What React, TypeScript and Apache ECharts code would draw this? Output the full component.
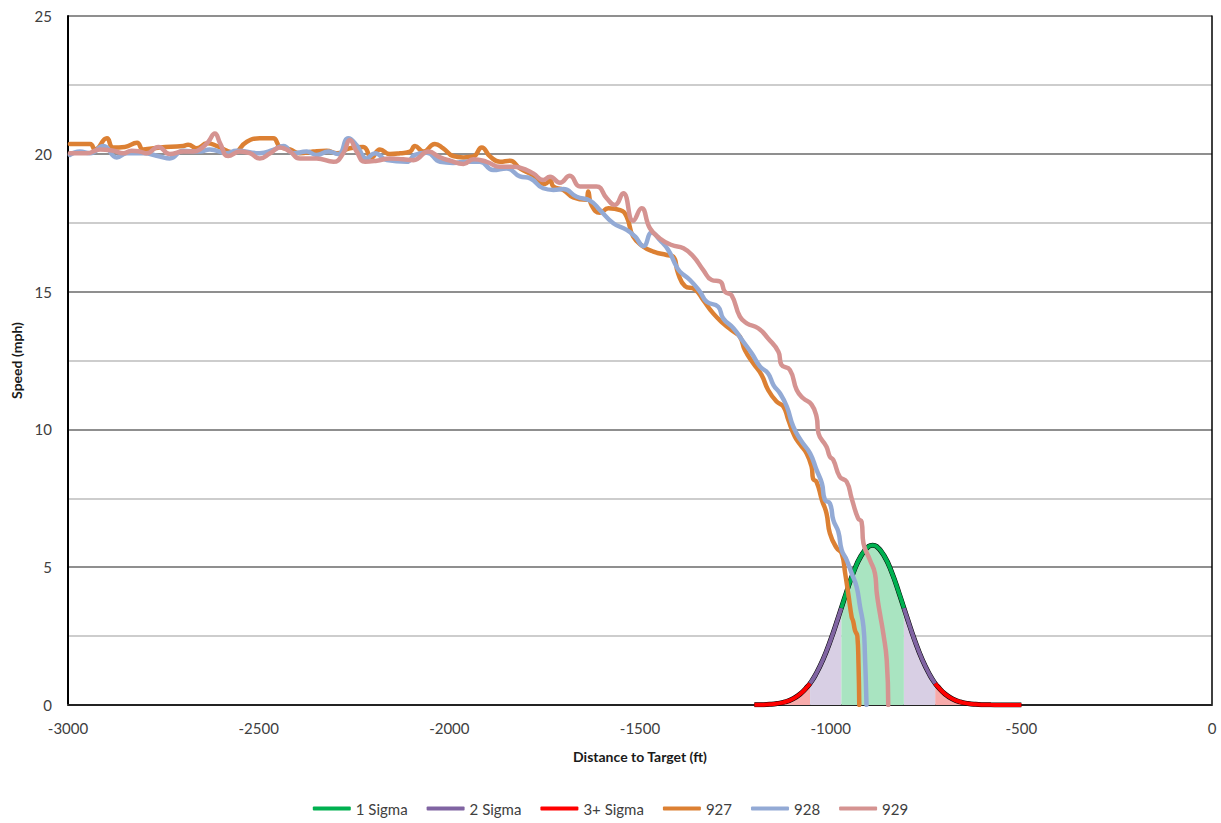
import React, { useEffect, useRef } from "react";
import * as echarts from "echarts";

// ---- Axis settings ----
const X_MIN = -3000;
const X_MAX = 0;
const X_STEP = 500;
const Y_MIN = 0;
const Y_MAX = 25;
const Y_STEP = 5;

const LEGEND_NAMES = ["1 Sigma", "2 Sigma", "3+ Sigma", "927", "928", "929"];

// ---- Bell curve (distance ft, height) ----
const sigma3Left: number[][] = [
  [-1200, 0.005], [-1180, 0.011], [-1160, 0.026], [-1140, 0.056], [-1120, 0.11],
  [-1100, 0.22], [-1080, 0.4], [-1060, 0.68], [-1054, 0.785],
];
const sigma2Left: number[][] = [
  [-1054, 0.785], [-1040, 1.09], [-1020, 1.65], [-1000, 2.36], [-980, 3.18], [-972, 3.52],
];
const sigma1: number[][] = [
  [-972, 3.52], [-960, 4.03], [-940, 4.82], [-920, 5.42], [-900, 5.76], [-890, 5.8],
  [-880, 5.76], [-860, 5.42], [-840, 4.82], [-820, 4.03], [-808, 3.52],
];
const sigma2Right: number[][] = [
  [-808, 3.52], [-800, 3.18], [-780, 2.36], [-760, 1.65], [-740, 1.09], [-726, 0.785],
];
const sigma3Right: number[][] = [
  [-726, 0.785], [-720, 0.68], [-700, 0.4], [-680, 0.22], [-660, 0.11], [-640, 0.056],
  [-620, 0.026], [-600, 0.011], [-580, 0.005], [-560, 0.002], [-540, 0.001], [-520, 0], [-500, 0],
];

// ---- Runs (distance ft, speed mph) ----
const run927: number[][] = [
  [-2995, 20.36], [-2942, 20.36], [-2929, 20.16], [-2898, 20.56], [-2882, 20.23], [-2851, 20.25],
  [-2819, 20.4], [-2803, 20.16], [-2759, 20.23], [-2698, 20.28], [-2685, 20.33], [-2662, 20.2],
  [-2635, 20.38], [-2609, 20.28], [-2583, 20.11], [-2567, 20.04], [-2531, 20.44], [-2497, 20.56],
  [-2462, 20.56], [-2444, 20.25], [-2418, 20.16], [-2392, 20.02], [-2357, 20.08], [-2322, 20.11],
  [-2295, 20.02], [-2261, 20.2], [-2226, 20.25], [-2204, 19.87], [-2182, 20.16], [-2156, 19.99],
  [-2129, 20.02], [-2103, 20.08], [-2090, 20.28], [-2068, 20.08], [-2038, 20.36], [-2016, 20.2],
  [-1990, 19.92], [-1963, 19.87], [-1937, 19.9], [-1915, 20.23], [-1893, 19.9], [-1867, 19.71],
  [-1841, 19.75], [-1815, 19.47], [-1780, 19.22], [-1749, 18.9], [-1736, 19.05], [-1727, 18.81],
  [-1701, 18.69], [-1675, 18.42], [-1640, 18.33], [-1636, 18.63], [-1627, 18.14], [-1605, 17.86],
  [-1583, 18.02], [-1552, 17.96], [-1535, 17.72], [-1518, 17.0], [-1491, 16.63], [-1465, 16.45],
  [-1430, 16.33], [-1413, 16.27], [-1400, 15.66], [-1382, 15.2], [-1356, 15.08], [-1334, 14.69],
  [-1308, 14.21], [-1282, 13.85], [-1255, 13.55], [-1238, 13.36], [-1225, 12.88], [-1203, 12.4],
  [-1181, 11.97], [-1164, 11.43], [-1142, 11.01], [-1124, 10.83], [-1111, 10.34], [-1094, 9.74],
  [-1080, 9.45], [-1063, 9.13], [-1050, 8.65], [-1046, 8.2], [-1037, 8.1], [-1023, 7.44],
  [-1011, 6.96], [-1002, 6.23], [-984, 5.69], [-971, 5.5], [-962, 4.78], [-954, 4.05],
  [-945, 3.2], [-941, 3.04], [-936, 2.7], [-930, 2.5], [-927, 1.5], [-925, 0],
];
const run928: number[][] = [
  [-2995, 19.96], [-2969, 20.08], [-2942, 20.02], [-2907, 20.28], [-2872, 19.87], [-2846, 20.02],
  [-2803, 20.02], [-2759, 19.9], [-2733, 19.83], [-2698, 20.11], [-2654, 20.08], [-2628, 20.16],
  [-2584, 20.02], [-2558, 20.11], [-2497, 20.02], [-2462, 20.14], [-2435, 20.28], [-2409, 20.02],
  [-2374, 20.08], [-2348, 19.96], [-2317, 20.08], [-2291, 19.99], [-2265, 20.56], [-2243, 20.31],
  [-2217, 19.83], [-2195, 20.02], [-2164, 19.77], [-2112, 19.71], [-2090, 19.96], [-2059, 20.04],
  [-2024, 19.71], [-1990, 19.67], [-1954, 19.71], [-1920, 19.71], [-1885, 19.41], [-1850, 19.47],
  [-1815, 19.18], [-1788, 19.11], [-1754, 18.75], [-1727, 18.69], [-1701, 18.72], [-1666, 18.44],
  [-1631, 18.3], [-1605, 17.96], [-1570, 17.48], [-1535, 17.24], [-1513, 17.0], [-1491, 16.65],
  [-1469, 17.14], [-1448, 16.87], [-1426, 16.51], [-1404, 15.9], [-1395, 15.72], [-1369, 15.42],
  [-1343, 15.0], [-1325, 14.63], [-1295, 14.45], [-1282, 14.03], [-1255, 13.67], [-1229, 13.18],
  [-1207, 12.76], [-1185, 12.28], [-1164, 12.03], [-1150, 11.61], [-1133, 11.31], [-1115, 10.83],
  [-1098, 10.1], [-1078, 9.6], [-1054, 9.13], [-1037, 8.53], [-1023, 8.04], [-1015, 7.44],
  [-1002, 7.32], [-993, 6.71], [-980, 6.29], [-971, 5.62], [-958, 5.26], [-945, 4.78],
  [-932, 4.29], [-923, 3.57], [-914, 2.84], [-910, 1.75], [-906, 0],
];
const run929: number[][] = [
  [-2995, 20.02], [-2951, 20.02], [-2916, 20.16], [-2881, 20.11], [-2855, 20.02], [-2833, 20.11],
  [-2811, 20.08], [-2794, 20.02], [-2763, 20.25], [-2733, 19.99], [-2698, 20.08], [-2671, 20.08],
  [-2654, 20.16], [-2632, 20.44], [-2615, 20.74], [-2601, 20.38], [-2580, 19.92], [-2549, 20.08],
  [-2523, 20.02], [-2497, 19.83], [-2470, 20.02], [-2444, 20.23], [-2418, 20.08], [-2392, 19.83],
  [-2365, 19.83], [-2348, 19.83], [-2304, 19.71], [-2278, 20.02], [-2261, 20.5], [-2243, 20.08],
  [-2221, 19.71], [-2190, 19.75], [-2156, 19.83], [-2121, 19.8], [-2094, 19.77], [-2055, 20.08],
  [-2024, 19.87], [-1998, 19.75], [-1963, 19.63], [-1937, 19.8], [-1902, 19.71], [-1867, 19.53],
  [-1832, 19.53], [-1815, 19.5], [-1780, 19.29], [-1754, 19.05], [-1736, 19.17], [-1710, 18.95],
  [-1684, 19.2], [-1657, 18.81], [-1614, 18.81], [-1587, 18.38], [-1566, 18.14], [-1544, 18.57],
  [-1518, 17.57], [-1496, 18.02], [-1474, 17.3], [-1448, 16.93], [-1417, 16.69], [-1386, 16.57],
  [-1360, 16.27], [-1334, 15.78], [-1312, 15.42], [-1290, 15.37], [-1277, 14.99], [-1260, 14.87],
  [-1238, 14.09], [-1220, 13.85], [-1190, 13.67], [-1164, 13.3], [-1137, 12.82], [-1129, 12.34],
  [-1107, 12.16], [-1089, 11.43], [-1072, 11.13], [-1050, 10.9], [-1037, 10.46], [-1032, 9.86],
  [-1011, 9.37], [-1002, 9.01], [-993, 8.89], [-976, 8.28], [-958, 8.1], [-945, 7.5],
  [-928, 6.77], [-919, 6.65], [-914, 5.87], [-897, 5.26], [-884, 4.78], [-879, 4.05],
  [-871, 3.33], [-862, 2.6], [-853, 1.63], [-849, 0],
];

const COLORS = {
  s1: "#00B050",
  s2: "#8064A2",
  s3: "#FF0000",
  r927: "#DC8033",
  r928: "#93AAD5",
  r929: "#D59391",
};
const FILLS = { s1: "#a9e4c1", s2: "#d8cfe4", s3: "#f7abab" };

function bellSeries(name: string, data: number[][], color: string, fill: string) {
  return {
    name,
    type: "line",
    data,
    smooth: true,
    symbol: "none",
    lineStyle: { color, width: 4 },
    itemStyle: { color },
    areaStyle: { color: fill, opacity: 1 },
  };
}

function runSeries(name: string, data: number[][], color: string) {
  return {
    name,
    type: "line",
    data,
    smooth: 0.5,
    symbol: "none",
    lineStyle: { color, width: 4.5, cap: "round", join: "round" },
    itemStyle: { color },
  };
}

export default function App() {
  const ref = useRef<HTMLDivElement>(null);

  useEffect(() => {
    if (!ref.current) return;
    const chart = echarts.init(ref.current, null, { renderer: "svg" });

    const outline: number[][] = [];
    [sigma3Left, sigma2Left, sigma1, sigma2Right, sigma3Right].forEach((seg) =>
      seg.forEach((p) => {
        const last = outline[outline.length - 1];
        if (!last || last[0] !== p[0]) outline.push(p);
      })
    );

    const font = "Lato, 'Open Sans', sans-serif";
    const labelFont = { fontFamily: font, fontSize: 15, color: "#404040" };
    const plain = (v: number) => String(v);

    chart.setOption({
      animation: false,
      backgroundColor: "#ffffff",
      grid: { left: 68, right: 9, top: 16, bottom: 118, containLabel: false },
      legend: {
        data: LEGEND_NAMES,
        top: 796,
        left: "center",
        icon: "roundRect",
        itemWidth: 38,
        itemHeight: 4,
        itemGap: 19,
        textStyle: { fontFamily: font, fontSize: 15, color: "#404040" },
      },
      xAxis: [
        {
          type: "value",
          min: X_MIN,
          max: X_MAX,
          interval: X_STEP,
          name: "Distance to Target (ft)",
          nameLocation: "middle",
          nameGap: 44,
          nameTextStyle: { fontFamily: font, fontSize: 14, fontWeight: "bold", color: "#1a1a1a" },
          axisLine: { show: true, onZero: false, lineStyle: { color: "#8c8c8c", width: 2 } },
          axisTick: { show: false },
          axisLabel: { ...labelFont, margin: 15, formatter: plain },
          splitLine: { show: false },
        },
        {
          type: "value",
          position: "top",
          min: X_MIN,
          max: X_MAX,
          interval: X_STEP,
          axisLine: { show: true, lineStyle: { color: "#000000", width: 1.5 } },
          axisTick: { show: false },
          axisLabel: { show: false },
          splitLine: { show: false },
        },
      ],
      yAxis: [
        {
          type: "value",
          min: Y_MIN,
          max: Y_MAX,
          interval: Y_STEP,
          name: "Speed (mph)",
          nameLocation: "middle",
          nameGap: 44,
          nameTextStyle: { fontFamily: font, fontSize: 14, fontWeight: "bold", color: "#1a1a1a" },
          axisLine: { show: true, onZero: false, lineStyle: { color: "#000000", width: 2 } },
          axisTick: { show: false },
          axisLabel: { ...labelFont, margin: 16, formatter: plain },
          splitLine: { show: true, lineStyle: { color: "#8f8f8f", width: 2 } },
          minorTick: { show: false, splitNumber: 2 },
          minorSplitLine: { show: true, lineStyle: { color: "#bdbdbd", width: 1.5 } },
        },
        {
          type: "value",
          position: "right",
          min: Y_MIN,
          max: Y_MAX,
          interval: Y_STEP,
          axisLine: { show: true, onZero: false, lineStyle: { color: "#000000", width: 1.5 } },
          axisTick: { show: false },
          axisLabel: { show: false },
          splitLine: { show: false },
        },
      ],
      series: [
        {
          name: "outline",
          type: "line",
          data: outline,
          smooth: true,
          symbol: "none",
          lineStyle: { color: "#000000", width: 5 },
          itemStyle: { color: "#000000" },
        },
        bellSeries("3+ Sigma", sigma3Left, COLORS.s3, FILLS.s3),
        bellSeries("3+ Sigma", sigma3Right, COLORS.s3, FILLS.s3),
        bellSeries("2 Sigma", sigma2Left, COLORS.s2, FILLS.s2),
        bellSeries("2 Sigma", sigma2Right, COLORS.s2, FILLS.s2),
        bellSeries("1 Sigma", sigma1, COLORS.s1, FILLS.s1),
        runSeries("927", run927, COLORS.r927),
        runSeries("928", run928, COLORS.r928),
        runSeries("929", run929, COLORS.r929),
      ],
    });

    return () => chart.dispose();
  }, []);

  return (
    <div
      ref={ref}
      style={{ position: "absolute", left: 0, top: 0, width: 1221, height: 823 }}
    />
  );
}
